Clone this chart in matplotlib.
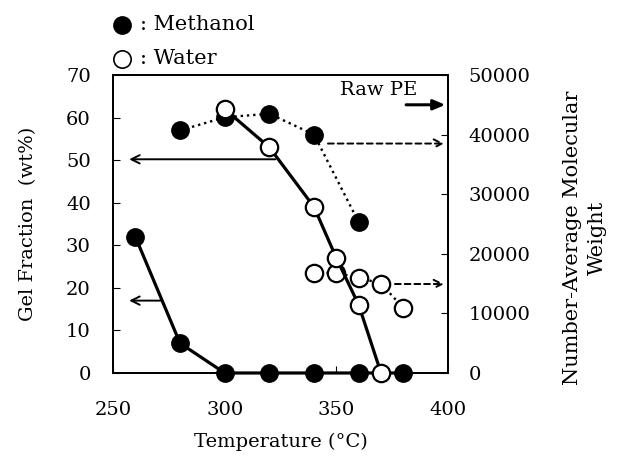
import matplotlib
matplotlib.use("Agg")
import matplotlib.pyplot as plt

plt.rcParams['font.family'] = ['DejaVu Serif']

# Gel fraction (wt%), left axis
gel_meoh_T = [260, 280, 300, 320, 340, 360, 380]
gel_meoh = [32, 7, 0, 0, 0, 0, 0]
gel_water_T = [300, 320, 340, 350, 360, 370]
gel_water = [62, 53, 39, 27, 16, 0]

# Number-average molecular weight, right axis
mn_meoh_T = [280, 300, 320, 340, 360]
mn_meoh = [40700, 42900, 43500, 40000, 25300]
mn_water_T = [340, 350, 360, 370, 380]
mn_water = [16800, 16800, 16000, 15000, 10900]

raw_pe = 45000

fig = plt.figure(figsize=(6.22, 4.59), dpi=100)
ax = fig.add_axes([0.1817, 0.1874, 0.5386, 0.6492])
ax2 = ax.twinx()

ms = 12.5
# molecular weight series (dotted)
ax2.plot(mn_meoh_T, mn_meoh, ':', color='black', lw=1.7, marker='o', ms=ms,
         mfc='black', mec='black', zorder=3)
ax2.plot(mn_water_T, mn_water, ':', color='black', lw=1.7, marker='o', ms=ms,
         mfc='white', mec='black', mew=1.6, zorder=3)

# gel fraction series (solid)
ax.plot(gel_meoh_T, gel_meoh, '-', color='black', lw=2.3, marker='o', ms=ms,
        mfc='black', mec='black', zorder=3, clip_on=False)
ax.plot(gel_water_T, gel_water, '-', color='black', lw=2.3, marker='o', ms=ms,
        mfc='white', mec='black', mew=1.6, zorder=4, clip_on=False)

ax.set_xlim(250, 400)
ax.set_ylim(0, 70)
ax2.set_ylim(0, 50000)
ax.set_xticks([250, 300, 350, 400])
ax.set_yticks(range(0, 71, 10))
ax2.set_yticks(range(0, 50001, 10000))
ax.set_zorder(ax2.get_zorder() + 1)
ax.patch.set_visible(False)

for a in (ax, ax2):
    a.tick_params(direction='in', length=5, width=0.8, labelsize=14)
    for s in a.spines.values():
        s.set_linewidth(1.4)
ax.tick_params(axis='x', pad=20)
ax.tick_params(axis='y', pad=16)
ax2.tick_params(axis='y', pad=15)

ax.set_xlabel('Temperature (\u00b0C)', fontsize=14, labelpad=10)
ax.set_ylabel('Gel Fraction  (wt%)', fontsize=14, labelpad=21)
ax2.set_ylabel('Number-Average Molecular\nWeight', fontsize=15, linespacing=1.45)
ax2.yaxis.set_label_coords(1.342, 0.455)

# arrows pointing to axes
solid = dict(arrowstyle='->,head_length=0.6,head_width=0.3', color='black', lw=1.4)
dashed = dict(arrowstyle='->,head_length=0.6,head_width=0.3', color='black', lw=1.4,
              linestyle=(0, (3, 2)))
ax.annotate('', xy=(256, 50.2), xytext=(324, 50.2), arrowprops=solid)
ax.annotate('', xy=(256, 17), xytext=(272.5, 17), arrowprops=solid)
ax.annotate('', xy=(399.5, 53.9), xytext=(345, 53.9), arrowprops=dashed)
ax.annotate('', xy=(399.5, 20.9), xytext=(375, 20.9), arrowprops=dashed)
ax2.annotate('', xy=(400, raw_pe), xytext=(380, raw_pe),
             arrowprops=dict(arrowstyle='-|>,head_length=0.7,head_width=0.3',
                             color='black', lw=2.2))
ax.text(369, 66.5, 'Raw PE', fontsize=14, ha='center', va='center')

# legend above the axes
ax.plot([0.027], [1.168], 'o', ms=ms, mfc='black', mec='black',
        transform=ax.transAxes, clip_on=False)
ax.plot([0.027], [1.054], 'o', ms=ms, mfc='white', mec='black', mew=1.2,
        transform=ax.transAxes, clip_on=False)
ax.text(0.082, 1.168, ': Methanol', transform=ax.transAxes, fontsize=15, va='center')
ax.text(0.082, 1.054, ': Water', transform=ax.transAxes, fontsize=15, va='center')

fig.savefig('out.png', dpi=100)
